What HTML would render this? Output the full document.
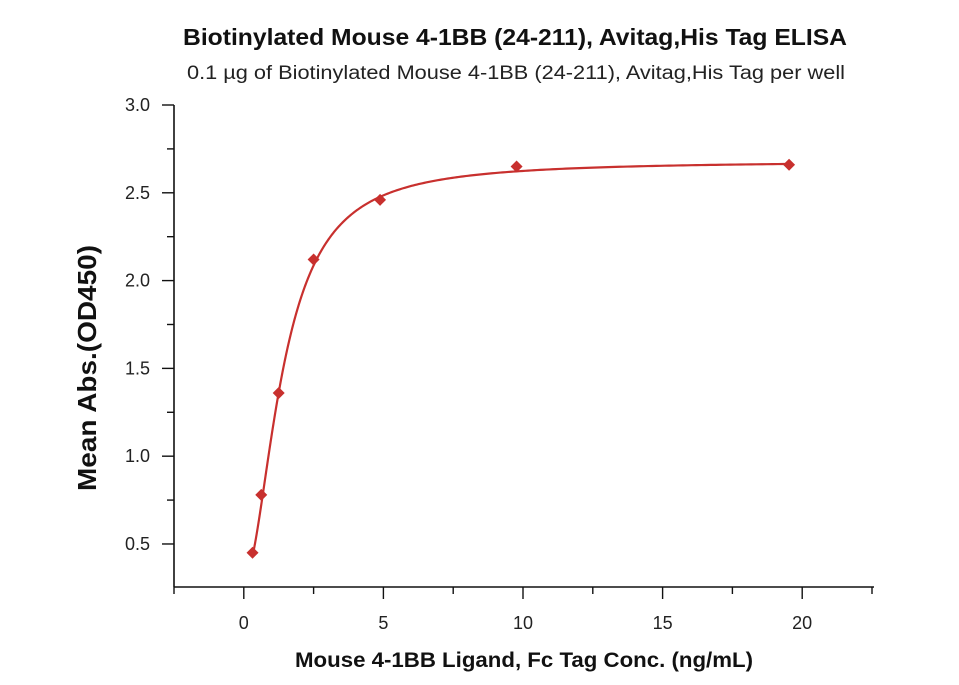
<!DOCTYPE html>
<html><head><meta charset="utf-8"><style>
html,body{margin:0;padding:0;background:#fff;}
svg{display:block;font-family:"Liberation Sans",sans-serif;}
</style></head><body>
<svg id="chart" width="959" height="685" viewBox="0 0 959 685">
<text x="515" y="45" text-anchor="middle" font-size="23" font-weight="bold" fill="#111" textLength="664" lengthAdjust="spacingAndGlyphs">Biotinylated Mouse 4-1BB (24-211), Avitag,His Tag ELISA</text>
<text x="516" y="79" text-anchor="middle" font-size="19" fill="#222" textLength="658" lengthAdjust="spacingAndGlyphs">0.1 µg of Biotinylated Mouse 4-1BB (24-211), Avitag,His Tag per well</text>
<text transform="translate(96,368) rotate(-90)" text-anchor="middle" font-size="26" font-weight="bold" fill="#111" textLength="246" lengthAdjust="spacingAndGlyphs">Mean Abs.(OD450)</text>
<text x="524" y="667" text-anchor="middle" font-size="21" font-weight="bold" fill="#111" textLength="458" lengthAdjust="spacingAndGlyphs">Mouse 4-1BB Ligand, Fc Tag Conc. (ng/mL)</text>
<g id="axes"></g>
<g id="plot"></g>
</svg>
<script>
const xValues = [0.3125, 0.625, 1.25, 2.5, 4.88, 9.77, 19.53];
const yValues = [0.45, 0.78, 1.36, 2.12, 2.46, 2.65, 2.66];
const xTicks = [0, 5, 10, 15, 20];
const yTicks = [0.5, 1.0, 1.5, 2.0, 2.5, 3.0];
const xTickLabels = ["0", "5", "10", "15", "20"];
const yTickLabels = ["0.5", "1.0", "1.5", "2.0", "2.5", "3.0"];

const NS = "http://www.w3.org/2000/svg";
const X0 = 174, X1 = 872, Y0 = 587, Y1 = 105;
const xMin = -2.5, xMax = 22.5, yMin = 0.255, yMax = 3.0;
const sx = v => X0 + (v - xMin) / (xMax - xMin) * (X1 - X0);
const sy = v => Y0 - (v - yMin) / (yMax - yMin) * (Y0 - Y1);
function mk(tag, attrs, parent){const e=document.createElementNS(NS,tag);for(const k in attrs)e.setAttribute(k,attrs[k]);parent.appendChild(e);return e;}
const axes = document.getElementById('axes'), plot = document.getElementById('plot');

const xa = mk('line',{x1:X0,y1:Y0,x2:X1+2,y2:Y0,stroke:'#111','stroke-width':1.6},axes);


const ya = mk('line',{x1:X0,y1:Y0,x2:X0,y2:Y1,stroke:'#111','stroke-width':1.6},axes);



for (let v = xMin; v <= xMax + 1e-9; v += 2.5) {
  const major = Math.abs(v % 5) < 1e-9;
  const t = mk('line',{x1:sx(v),y1:Y0,x2:sx(v),y2:Y0+(major?12:7),stroke:'#111','stroke-width':1.4},axes);
  
  
}
xTicks.forEach((v,i)=>{
  const t = mk('text',{x:sx(v),y:Y0+42,'text-anchor':'middle','font-size':18,fill:'#222'},axes);
  t.textContent = xTickLabels[i];
  
  
});
for (let v = 0.25; v <= yMax + 1e-9; v += 0.25) {
  if (v < yMin) continue;
  const major = Math.abs((v*2) - Math.round(v*2)) < 1e-9;
  const t = mk('line',{x1:X0,y1:sy(v),x2:X0-(major?12:7),y2:sy(v),stroke:'#111','stroke-width':1.4},axes);
  
  
}
yTicks.forEach((v,i)=>{
  const t = mk('text',{x:X0-24,y:sy(v)+6,'text-anchor':'end','font-size':18,fill:'#222'},axes);
  t.textContent = yTickLabels[i];
  
  
});

// fitted 4PL curve
const A = 0.3, D = 2.68, C = 1.4, B = 1.9;
const f = x => D + (A - D) / (1 + Math.pow(x / C, B));
let d = '';
const xs = xValues[0], xe = xValues[xValues.length-1];
for (let i = 0; i <= 400; i++) {
  const x = xs * Math.pow(xe / xs, i / 400);
  d += (i ? 'L' : 'M') + sx(x).toFixed(2) + ',' + sy(f(x)).toFixed(2);
}
const curve = mk('path',{d:d,fill:'none',stroke:'#c8302e','stroke-width':2.2},plot);



xValues.forEach((x,i)=>{
  const cx = sx(x), cy = sy(yValues[i]), r = 6;
  const p = mk('polygon',{points:`${cx},${cy-r} ${cx+r},${cy} ${cx},${cy+r} ${cx-r},${cy}`,fill:'#c8302e'},plot);
  
  
});
</script>
</body></html>
